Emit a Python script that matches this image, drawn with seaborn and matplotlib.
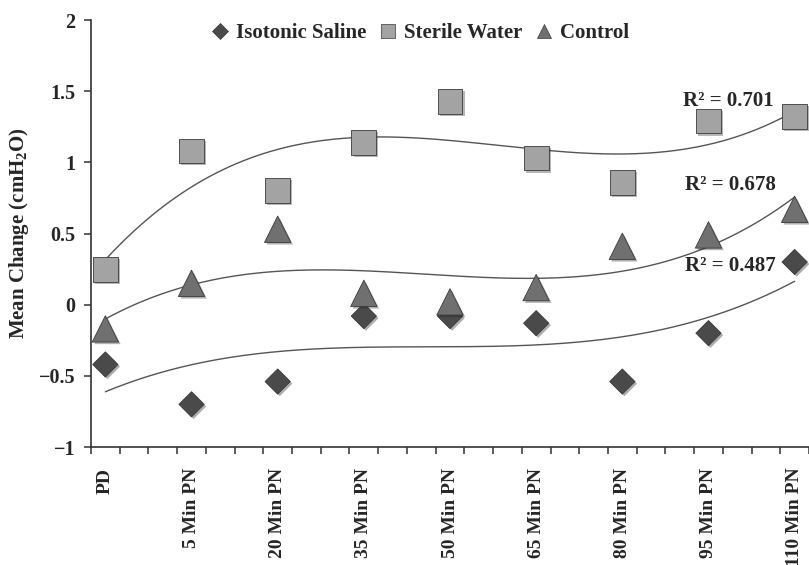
import numpy as np
import pandas as pd
import matplotlib
matplotlib.use("Agg")
import matplotlib.pyplot as plt
import matplotlib.patheffects as pe
from matplotlib.lines import Line2D
import seaborn as sns

# Time points (categories)
times = ["PD", "5 Min PN", "20 Min PN", "35 Min PN", "50 Min PN",
         "65 Min PN", "80 Min PN", "95 Min PN", "110 Min PN"]

# Mean change per group
saline = [-0.42, -0.70, -0.54, -0.08, -0.08, -0.13, -0.54, -0.20, 0.30]
water = [0.25, 1.08, 0.80, 1.14, 1.43, 1.03, 0.86, 1.29, 1.32]
control = [-0.17, 0.15, 0.53, 0.08, 0.02, 0.12, 0.41, 0.49, 0.67]

groups = ["Isotonic Saline", "Sterile Water", "Control"]
r2_text = ["R\u00b2 = 0.487", "R\u00b2 = 0.701", "R\u00b2 = 0.678"]

colors = {"Isotonic Saline": "#4a4a4a", "Sterile Water": "#a3a3a3", "Control": "#707070"}
markers = {"Isotonic Saline": "D", "Sterile Water": "s", "Control": "^"}
sizes = {"Isotonic Saline": 165, "Sterile Water": 320, "Control": 360}

df = pd.DataFrame({
    "time": list(range(len(times))) * 3,
    "value": saline + water + control,
    "group": [g for g in groups for _ in times],
})

sns.set_style("white")
plt.rcParams["font.family"] = ["Liberation Serif", "DejaVu Serif"]
plt.rcParams["font.weight"] = "bold"
plt.rcParams["mathtext.fontset"] = "custom"
plt.rcParams["mathtext.rm"] = "Liberation Serif:bold"
plt.rcParams["mathtext.it"] = "Liberation Serif:bold"
plt.rcParams["mathtext.bf"] = "Liberation Serif:bold"

fig = plt.figure(figsize=(8.09, 5.65), dpi=100)
ax = fig.add_axes([0.1125, 0.2088, 0.8875, 0.7558])

# 3rd order polynomial trendlines, drawn first
xs = np.linspace(0, len(times) - 1, 200)
for g in groups:
    sub = df[df["group"] == g]
    coef = np.polyfit(sub["time"], sub["value"], 3)
    ax.plot(xs, np.polyval(coef, xs), color="#555555", lw=1.0, zorder=1)

for g in groups:
    sub = df[df["group"] == g]
    sns.scatterplot(data=sub, x="time", y="value", ax=ax, marker=markers[g],
                    s=sizes[g], color=colors[g], edgecolor="#3a3a3a",
                    linewidth=0.6, legend=False, zorder=3,
                    path_effects=[pe.SimplePatchShadow(offset=(1.5, -1.5), alpha=0.35),
                                  pe.Normal()])

ax.set_xlim(-1 / 6, 8.14)
ax.set_ylim(-1, 2)
ax.set_yticks([-1, -0.5, 0, 0.5, 1, 1.5, 2])
ax.set_yticklabels(["\u22121", "\u22120.5", "0", "0.5", "1", "1.5", "2"])
ax.set_xticks(range(len(times)))
ax.set_xticklabels(times, rotation=90, va="top", ha="center")
ax.set_xticks(np.arange(-1 / 6, 8.2, 1 / 3), minor=True)
ax.tick_params(axis="x", which="major", bottom=True, length=0, pad=15, labelsize=14)
ax.tick_params(axis="x", which="minor", bottom=True, length=5, width=1.1,
               color="#333333", direction="out")
ax.tick_params(axis="y", left=True, length=5, width=1.1, color="#333333",
               direction="out", labelsize=14.5, pad=6)

for s in ["top", "right"]:
    ax.spines[s].set_visible(False)
for s in ["left", "bottom"]:
    ax.spines[s].set_color("#333333")
    ax.spines[s].set_linewidth(1.2)

ax.set_xlabel("")
ax.set_ylabel("Mean Change (cmH$_2$O)", fontsize=15, fontweight="bold", labelpad=6)

# R squared labels
ax.text(7.76, 1.43, r2_text[1], fontsize=15, fontweight="bold", ha="right", va="center")
ax.text(7.78, 0.84, r2_text[2], fontsize=15, fontweight="bold", ha="right", va="center")
ax.text(7.78, 0.27, r2_text[0], fontsize=15, fontweight="bold", ha="right", va="center")

handles = [Line2D([], [], ls="", marker=markers[g], color=colors[g],
                  markersize=10 if g != "Isotonic Saline" else 8,
                  markeredgecolor="#3a3a3a", markeredgewidth=0.5) for g in groups]
fig.legend(handles, groups, loc="center", bbox_to_anchor=(420 / 809, 1 - 33 / 565),
           ncol=3, frameon=False, handletextpad=0.3, columnspacing=0.6,
           handlelength=0.9, prop={"size": 15, "weight": "bold"})

fig.savefig("out.png", dpi=100)
